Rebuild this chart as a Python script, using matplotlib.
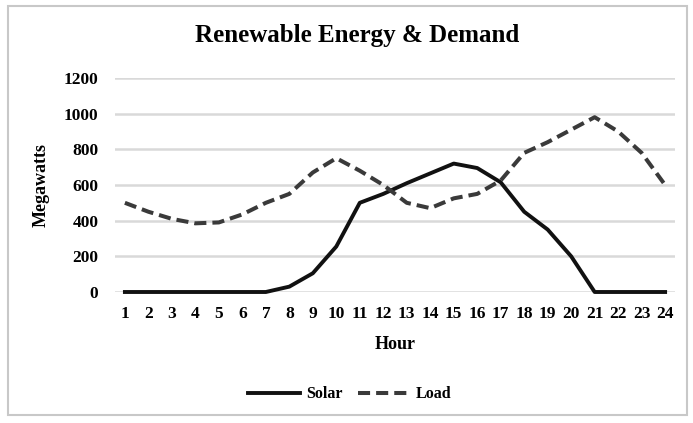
import matplotlib
matplotlib.use("Agg")
import matplotlib.pyplot as plt
from matplotlib.patches import Rectangle

hours = list(range(1, 25))
solar = [0, 0, 0, 0, 0, 0, 0, 30, 105, 255, 500, 550, 610, 665, 720, 695,
         615, 450, 350, 200, 0, 0, 0, 0]
load = [500, 450, 410, 385, 390, 435, 500, 550, 670, 750, 680, 600, 500,
        470, 525, 550, 625, 780, 840, 910, 980, 900, 780, 600]
y_ticks = [0, 200, 400, 600, 800, 1000, 1200]

plt.rcParams['font.family'] = ['Liberation Serif', 'DejaVu Serif']
plt.rcParams['font.weight'] = 'bold'

fig = plt.figure(figsize=(6.93, 4.23), dpi=100)
# light grey frame round the whole chart
fig.patches.append(Rectangle((0.011, 0.02), 0.981, 0.965, transform=fig.transFigure,
                             fill=False, edgecolor='#c8c8c8', linewidth=1.5))

ax = fig.add_axes([0.166, 0.3097, 0.808, 0.506])

ax.plot(hours, solar, color='#111111', linewidth=2.8, label='Solar',
        solid_joinstyle='round', clip_on=False, zorder=3)
ax.plot(hours, load, color='#3a3a3a', linewidth=2.9, dashes=(3, 1.5), label='Load',
        clip_on=False, zorder=3)

ax.set_xlim(0.58, 24.42)
ax.set_ylim(0, 1200)
ax.set_xticks(hours)
ax.set_yticks(y_ticks)
ax.tick_params(axis='both', length=0, labelsize=12.5)
ax.tick_params(axis='x', pad=10)
ax.tick_params(axis='y', pad=12)
ax.grid(axis='y', color='#d9d9d9', linewidth=1.8)
ax.set_axisbelow(True)
for s in ax.spines.values():
    s.set_visible(False)

ax.set_xlabel('Hour', fontsize=13, fontweight='bold', labelpad=10)
ax.set_ylabel('Megawatts', fontsize=13, fontweight='bold', labelpad=10)

fig.text(0.515, 0.917, 'Renewable Energy & Demand', ha='center', va='center',
         fontsize=18, fontweight='bold')

fig.legend(loc='center', bbox_to_anchor=(0.505, 0.068), ncol=2, frameon=False,
           fontsize=11.5, handlelength=3.2, columnspacing=1.0, handletextpad=0.4)

fig.savefig('out.png', dpi=100)
